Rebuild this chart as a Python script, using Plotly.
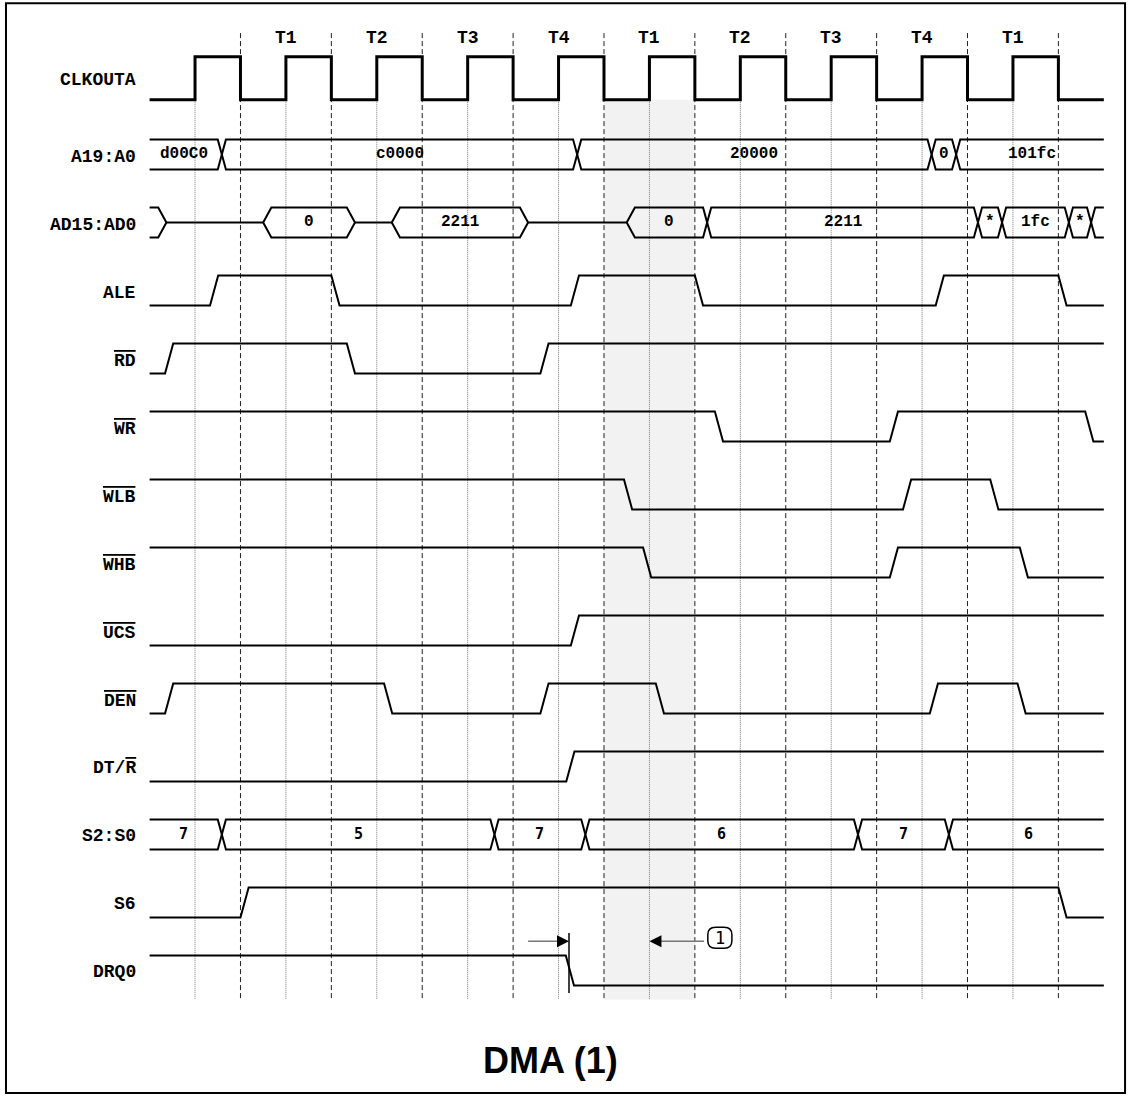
import plotly.graph_objects as go

############################################################
# DATA  (time unit = half a CLKOUTA period)
############################################################

T_END = 21

LABELS = [
    "CLKOUTA", "A19:A0", "AD15:AD0", "ALE",
    '<span style="text-decoration:overline">RD</span>',
    '<span style="text-decoration:overline">WR</span>',
    '<span style="text-decoration:overline">WLB</span>',
    '<span style="text-decoration:overline">WHB</span>',
    '<span style="text-decoration:overline">UCS</span>',
    '<span style="text-decoration:overline">DEN</span>',
    'DT/<span style="text-decoration:overline">R</span>',
    "S2:S0", "S6", "DRQ0",
]

PHASES = ["T1", "T2", "T3", "T4", "T1", "T2", "T3", "T4", "T1"]
PHASE_T = [3, 5, 7, 9, 11, 13, 15, 17, 19]

CLK_RISE = [1, 3, 5, 7, 9, 11, 13, 15, 17, 19]
CLK_FALL = [2, 4, 6, 8, 10, 12, 14, 16, 18, 20]
CLK_EDGES = [1, 2, 3, 4, 5, 6, 7, 8, 9, 10, 11, 12, 13, 14, 15, 16, 17, 18, 19, 20]

A19_VALUES = ["d00C0", "c0000", "20000", "0", "101fc"]
A19_EDGES = [1.5, 9.32, 17.12, 17.66]

AD_VALUES = ["", None, "0", None, "2211", None, "0", "2211", "*", "1fc", "*", ""]
AD_EDGES = [0.19, 2.5, 4.34, 5.33, 8.15, 10.5, 12.18, 18.14, 18.67, 20.14, 20.63]

ALE_EDGES = [1.33, 4.0, 9.27, 12.0, 17.3, 20.0]
RD_EDGES = [0.34, 4.34, 8.6]
WR_EDGES = [12.44, 16.29, 20.59]
WLB_EDGES = [10.44, 16.58, 18.5]
WHB_EDGES = [10.86, 16.29, 19.15]
UCS_EDGES = [9.27]
DEN_EDGES = [0.34, 5.16, 8.6, 11.14, 17.17, 19.1]
DTR_EDGES = [9.17]

S2_VALUES = ["7", "5", "7", "6", "7", "6"]
S2_EDGES = [1.5, 7.5, 9.5, 15.5, 17.5]

S6_EDGES = [2.0, 20.0]
DRQ0_EDGES = [9.16]

# (row, initial level, edges)
DIGITAL = [
    (3, 0, ALE_EDGES),
    (4, 0, RD_EDGES),
    (5, 1, WR_EDGES),
    (6, 1, WLB_EDGES),
    (7, 1, WHB_EDGES),
    (8, 0, UCS_EDGES),
    (9, 0, DEN_EDGES),
    (10, 0, DTR_EDGES),
    (12, 0, S6_EDGES),
    (13, 1, DRQ0_EDGES),
]

HIGHLIGHT = (10, 12)
DRQ_MARK_T = 9.23
NOTE_T = 12.55

############################################################
# STYLE
############################################################

SLEW = 0.18
AMP = 0.22
CLK_AMP = 0.316
GAP = 0.12
LABEL_FONT = "Liberation Mono, Courier New, monospace"


def row_y(i):
    return 0 if i == 0 else i + GAP


def digital(init, edges, center, amp, slew):
    xs = [0]
    level = init
    lv = [level]
    for e in edges:
        xs += [e, e + slew]
        lv += [level, 1 - level]
        level = 1 - level
    xs.append(T_END)
    lv.append(level)
    ys = [center - amp if v else center + amp for v in lv]
    return xs, ys


def bus(values, edges, center, amp, w):
    xs, ys, texts = [], [], []
    n = len(values)
    top, bot = center - amp, center + amp
    for k, v in enumerate(values):
        if v is None:
            x0 = edges[k - 1] + w if k > 0 else 0
            x1 = edges[k] if k < n - 1 else T_END
            xs += [x0, x1, None]
            ys += [center, center, None]
            continue
        # left side
        tip_l = None
        if k == 0:
            xl = 0
        else:
            e = edges[k - 1]
            xl = e + w
            tip_l = e if values[k - 1] is None else e + w / 2
        # right side
        tip_r = None
        if k == n - 1:
            xr = T_END
        else:
            e = edges[k]
            xr = e
            tip_r = e + w if values[k + 1] is None else e + w / 2
        px, py = [], []
        if tip_l is not None:
            px.append(tip_l)
            py.append(center)
        px += [xl, xr]
        py += [top, top]
        if tip_r is not None:
            px.append(tip_r)
            py.append(center)
        else:
            px.append(None)
            py.append(None)
        px += [xr, xl]
        py += [bot, bot]
        if tip_l is not None:
            px.append(tip_l)
            py.append(center)
        xs += px + [None]
        ys += py + [None]
        if v:
            texts.append(((xl + xr) / 2, v))
    return xs, ys, texts


fig = go.Figure()

############################################################
# GRID / HIGHLIGHT
############################################################

y_bottom = 13.55
y_top_dash = -0.665

fig.add_shape(type="rect", x0=HIGHLIGHT[0], x1=HIGHLIGHT[1], y0=CLK_AMP, y1=y_bottom,
              fillcolor="#f2f2f2", line_width=0, layer="below")

for t in CLK_FALL:
    fig.add_shape(type="line", x0=t, x1=t, y0=y_top_dash, y1=y_bottom,
                  line=dict(color="#222", width=1, dash="5px,3px"), layer="below")

for t in CLK_RISE:
    fig.add_shape(type="line", x0=t, x1=t, y0=CLK_AMP, y1=y_bottom,
                  line=dict(color="#777", width=1, dash="1px,1px"), layer="below")

############################################################
# WAVEFORMS
############################################################

x, y = digital(0, CLK_EDGES, row_y(0), CLK_AMP, 0)
fig.add_trace(go.Scatter(x=x, y=y, mode="lines", line=dict(color="black", width=3),
                         hoverinfo="skip", showlegend=False))

for row, init, edges in DIGITAL:
    x, y = digital(init, edges, row_y(row), AMP, SLEW)
    fig.add_trace(go.Scatter(x=x, y=y, mode="lines", line=dict(color="black", width=2),
                             hoverinfo="skip", showlegend=False))

for row, values, edges, tfont, tsize in [
    (1, A19_VALUES, A19_EDGES, LABEL_FONT, 16),
    (2, AD_VALUES, AD_EDGES, LABEL_FONT, 16),
    (11, S2_VALUES, S2_EDGES, "DejaVu Sans Mono", 15),
]:
    x, y, texts = bus(values, edges, row_y(row), AMP, SLEW)
    fig.add_trace(go.Scatter(x=x, y=y, mode="lines", line=dict(color="black", width=2),
                             hoverinfo="skip", showlegend=False))
    for tx, label in texts:
        fig.add_annotation(x=tx, y=row_y(row), text=label, showarrow=False,
                           font=dict(family=tfont, size=tsize, color="black", weight="bold"))

############################################################
# LABELS
############################################################

for i, label in enumerate(LABELS):
    fig.add_annotation(x=-0.26, y=row_y(i) + 0.03, text=label, showarrow=False,
                       xanchor="right", yanchor="middle",
                       font=dict(family=LABEL_FONT, size=18, color="black", weight="bold"))

for t, p in zip(PHASE_T, PHASES):
    fig.add_annotation(x=t, y=-0.59, text=p, showarrow=False,
                       font=dict(family=LABEL_FONT, size=18, color="black", weight="bold"))

############################################################
# DRQ0 NOTE
############################################################

drq = row_y(13)
ay = drq - 0.43

fig.add_shape(type="line", x0=DRQ_MARK_T, x1=DRQ_MARK_T, y0=drq - 0.55, y1=drq + 0.33,
              line=dict(color="black", width=1.5))
fig.add_shape(type="line", x0=8.33, x1=DRQ_MARK_T - 0.1, y0=ay, y1=ay,
              line=dict(color="#777", width=1.5))
fig.add_shape(type="line", x0=12.2, x1=11.1, y0=ay, y1=ay,
              line=dict(color="#777", width=1.5))
for head, tail in [(DRQ_MARK_T, DRQ_MARK_T - 0.25), (11.0, 11.25)]:
    fig.add_annotation(x=head, y=ay, ax=tail, ay=ay, axref="x", ayref="y",
                       text="", showarrow=True, arrowhead=2, arrowsize=1.6,
                       arrowwidth=1.5, arrowcolor="black", standoff=0)

hw, hh, rx, ry = 0.265, 0.155, 0.17, 0.11
cy = drq - 0.48
x0, x1, y0, y1 = NOTE_T - hw, NOTE_T + hw, cy - hh, cy + hh
fig.add_shape(
    type="path",
    path=(f"M{x0 + rx},{y0} L{x1 - rx},{y0} Q{x1},{y0} {x1},{y0 + ry} "
          f"L{x1},{y1 - ry} Q{x1},{y1} {x1 - rx},{y1} L{x0 + rx},{y1} "
          f"Q{x0},{y1} {x0},{y1 - ry} L{x0},{y0 + ry} Q{x0},{y0} {x0 + rx},{y0} Z"),
    line=dict(color="black", width=1.5),
)
fig.add_annotation(x=NOTE_T, y=cy, text="1", showarrow=False,
                   font=dict(family="DejaVu Sans Mono", size=17, color="black"))

############################################################
# TITLE / FRAME
############################################################

fig.add_annotation(x=0.488, y=0.0337, xref="paper", yref="paper", text="DMA (1)",
                   showarrow=False, xanchor="center", yanchor="middle",
                   font=dict(family="Liberation Sans, Arial", size=36, color="black", weight="bold"))

fig.add_shape(type="rect", xref="paper", yref="paper", x0=0.0053, x1=0.9965, y0=0.0036, y1=0.997,
              line=dict(color="black", width=2))

fig.update_layout(
    width=1129,
    height=1097,
    margin=dict(l=0, r=0, t=0, b=0),
    paper_bgcolor="white",
    plot_bgcolor="white",
    xaxis=dict(range=[-3.292, 21.554], visible=False, fixedrange=True),
    yaxis=dict(range=[14.981, -1.1515], visible=False, fixedrange=True),
)

fig.write_html("out.html", config={"displayModeBar": False},
               post_script="document.body.style.margin='0';")
